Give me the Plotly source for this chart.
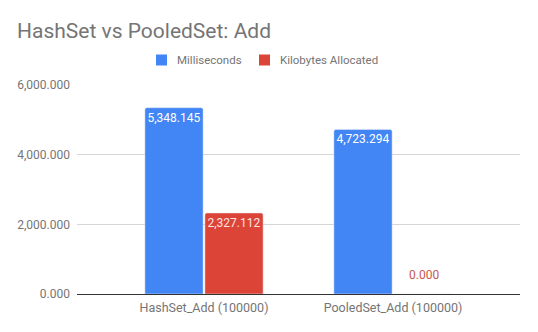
import plotly.graph_objects as go

categories = ["HashSet_Add (100000)", "PooledSet_Add (100000)"]
milliseconds = [5348.145, 4723.294]
kilobytes = [2327.112, 0.0]
y_ticks = [0, 2000, 4000, 6000]
series_names = ["Milliseconds", "Kilobytes Allocated"]
chart_title = "HashSet vs PooledSet: Add"

W, H = 538, 332
L, R, T, B = 77, 18, 85, 38
PW, PH = W - L - R, H - T - B
BLUE = "#4285F4"
RED = "#DB4437"
GRAY = "#757575"

def px_x(px):
    return (px - L) / PW

def px_y(py):
    return (H - B - py) / PH

def inside_labels(vals):
    return [f"{v:,.3f}" if v > 600 else "" for v in vals]

fig = go.Figure()
fig.add_trace(go.Bar(
    name=series_names[0], x=categories, y=milliseconds, marker_color=BLUE,
    text=inside_labels(milliseconds), textposition="inside",
    insidetextanchor="end", constraintext="none",
    insidetextfont=dict(color="white", size=12),
    textangle=0, cliponaxis=False, showlegend=False,
))
fig.add_trace(go.Bar(
    name=series_names[1], x=categories, y=kilobytes, marker_color=RED,
    text=inside_labels(kilobytes), textposition="inside",
    insidetextanchor="end", constraintext="none",
    insidetextfont=dict(color="#fbe3e0", size=12),
    textangle=0, cliponaxis=False, showlegend=False,
))

shapes, annotations = [], []

# labels for bars too short to hold their value: placed above the bar
for vals, color, xshift in [(milliseconds, BLUE, -31), (kilobytes, "#c9564b", 31)]:
    for cat, v in zip(categories, vals):
        if v <= 600:
            annotations.append(dict(text=f"{v:,.3f}", x=cat, y=v, xref="x", yref="y",
                                    xshift=xshift, yshift=19, showarrow=False,
                                    xanchor="center", yanchor="middle",
                                    font=dict(size=12, color=color)))

# custom legend (swatch + label) to match the original spacing
legend_items = [(series_names[0], BLUE, 156), (series_names[1], RED, 259)]
for name, color, sx in legend_items:
    shapes.append(dict(type="rect", xref="paper", yref="paper",
                       x0=px_x(sx), x1=px_x(sx + 11), y0=px_y(65.5), y1=px_y(54.5),
                       fillcolor=color, line=dict(width=0), layer="above"))
    annotations.append(dict(text=name, xref="paper", yref="paper",
                            x=px_x(sx + 19), y=px_y(60), xanchor="left", yanchor="middle",
                            showarrow=False, font=dict(size=11.5, color=GRAY)))

annotations.append(dict(text=chart_title, xref="paper", yref="paper",
                        x=px_x(15), y=px_y(31), xanchor="left", yanchor="middle",
                        showarrow=False, font=dict(size=21, color=GRAY, family="Roboto")))

fig.update_layout(
    width=W, height=H,
    margin=dict(l=L, r=R, t=T, b=B, autoexpand=False),
    paper_bgcolor="white", plot_bgcolor="white",
    font=dict(family="Roboto", color=GRAY, size=12),
    barmode="group", bargap=0.365, bargroupgap=0.03,
    barcornerradius=2,
    showlegend=False,
    shapes=shapes,
    annotations=annotations,
)
fig.update_xaxes(range=[-0.672, 1.672], showgrid=False, ticks="",
                 tickfont=dict(size=12.5, color=GRAY), showline=False,
                 ticklabelstandoff=4)
fig.update_yaxes(range=[0, 6000], tickvals=y_ticks, tickformat=",.3f",
                 gridcolor="#d6d6d6", gridwidth=1,
                 zeroline=True, zerolinecolor="#333333", zerolinewidth=1,
                 tickfont=dict(size=12, color=GRAY), ticks="", ticklabelstandoff=6)

fig.write_html("out.html")
